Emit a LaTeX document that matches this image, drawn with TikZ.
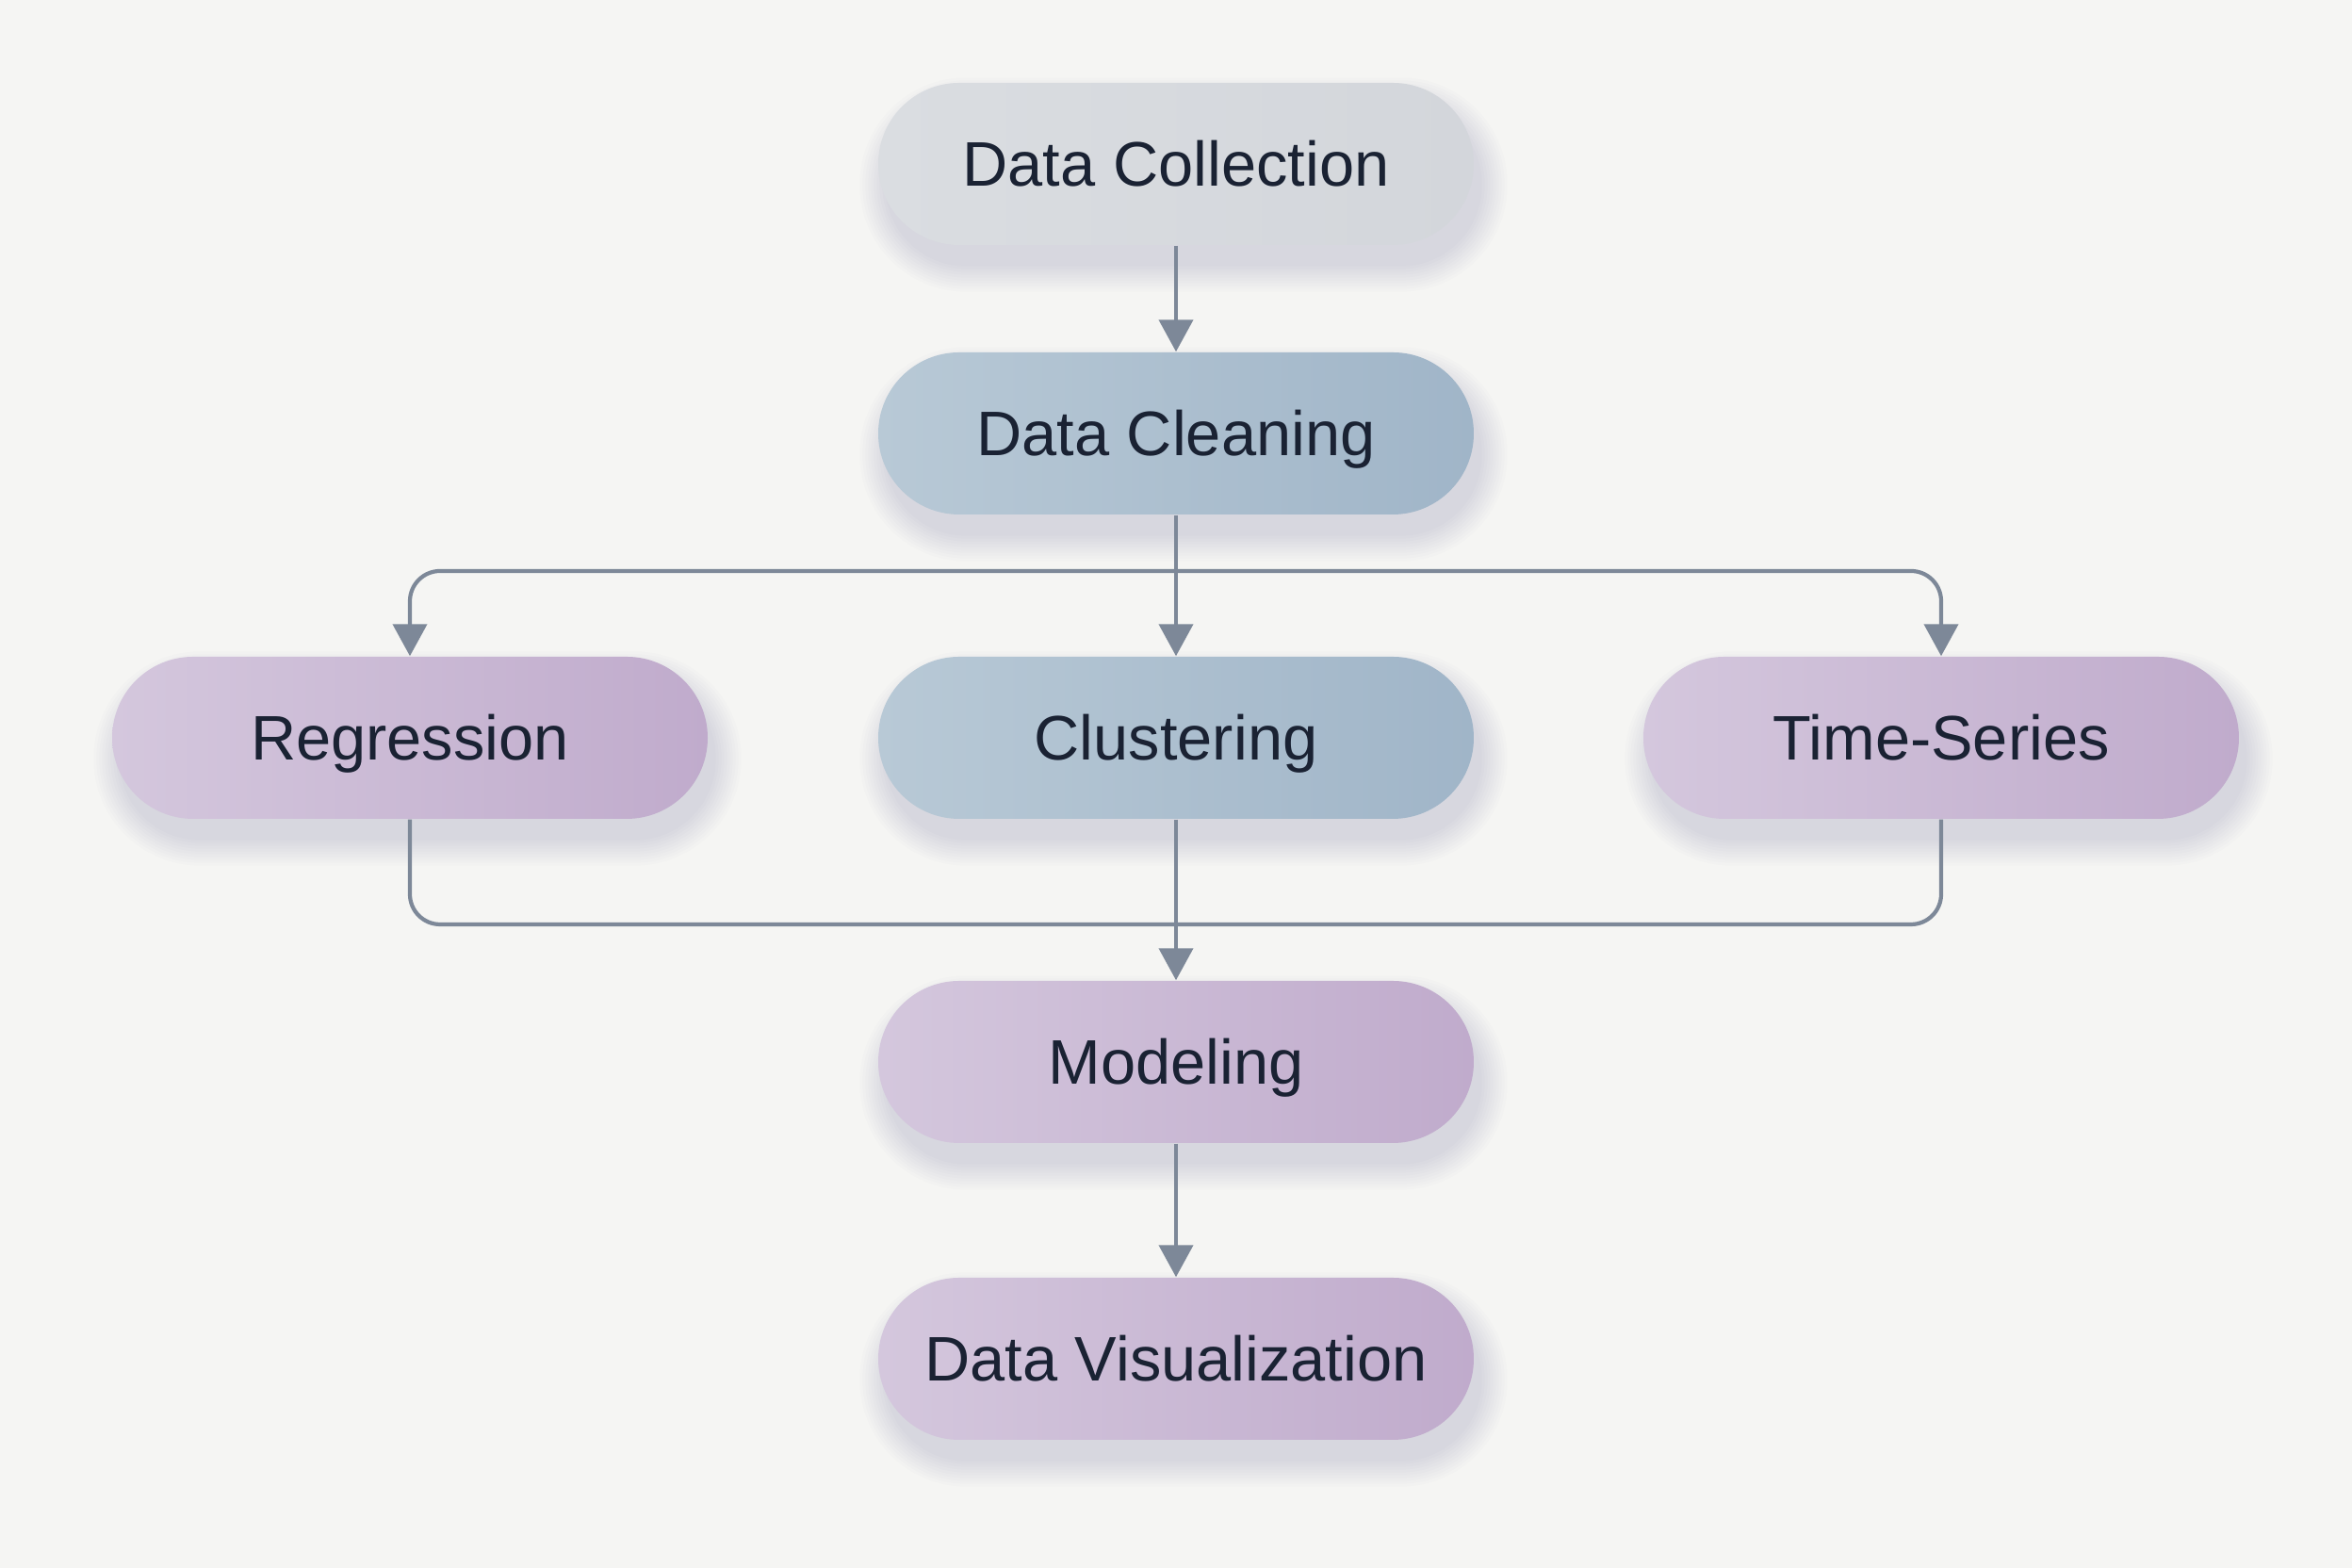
\documentclass[tikz,border=0pt]{standalone}
\usepackage{fontspec}
\setmainfont{Liberation Sans}
\usetikzlibrary{arrows.meta,calc,backgrounds}
\definecolor{bg}{HTML}{F5F5F3}
\definecolor{txt}{HTML}{1A2233}
\definecolor{ln}{HTML}{7D8898}
\definecolor{grayL}{HTML}{DADDE1}
\definecolor{grayR}{HTML}{D3D6DB}
\definecolor{blueL}{HTML}{B8C9D6}
\definecolor{blueR}{HTML}{A0B5C8}
\definecolor{purpL}{HTML}{D4C7DD}
\definecolor{purpR}{HTML}{C0ABCC}
\tikzset{
  pill/.style={rectangle, rounded corners=0.86cm, minimum width=6.32cm, minimum height=1.72cm,
    inner sep=0pt, text=txt, font=\fontsize{19}{22}\selectfont, text height=13.6pt, text depth=0pt},
  graypill/.style={pill, left color=grayL, right color=grayR},
  bluepill/.style={pill, left color=blueL, right color=blueR},
  purppill/.style={pill, left color=purpL, right color=purpR},
  conn/.style={draw=ln, line width=1.2pt, rounded corners=0.32cm},
  arr/.style={conn, -{Triangle[length=0.34cm,width=0.36cm]}}
}
\newcommand{\pillshadow}[1]{%
  \foreach \e in {0,0.03,...,0.27}{%
    \pgfmathsetmacro{\rr}{0.86+\e}%
    \fill[black!70!blue, opacity=0.011, rounded corners=\rr cm]
      ($(#1.south west)+(0.08-\e,-0.22-\e)$) rectangle ($(#1.north east)+(0.08+\e,-0.22+\e)$);
  }%
}
\begin{document}
\begin{tikzpicture}
\useasboundingbox (0,0) rectangle (24.96,16.64);
\node[graypill] (dc) at (12.48,14.90) {Data Collection};
\node[bluepill] (dcl) at (12.48,12.04) {Data Cleaning};
\node[purppill] (reg) at (4.35,8.81) {Regression};
\node[bluepill] (clu) at (12.48,8.81) {Clustering};
\node[purppill] (ts) at (20.60,8.81) {Time-Series};
\node[purppill] (mod) at (12.48,5.37) {Modeling};
\node[purppill] (vis) at (12.48,2.22) {Data Visualization};
\begin{pgfonlayer}{background}
\fill[bg] (0,0) rectangle (24.96,16.64);
\pillshadow{dc}
\pillshadow{dcl}
\pillshadow{reg}
\pillshadow{clu}
\pillshadow{ts}
\pillshadow{mod}
\pillshadow{vis}
\end{pgfonlayer}
\coordinate (split) at (12.48,10.58);
\coordinate (merge) at (12.48,6.83);
\draw[arr] (dc.south) -- (dcl.north);
\draw[arr] (dcl.south) -- (clu.north);
\draw[arr] (split) -| (reg.north);
\draw[arr] (split) -| (ts.north);
\draw[conn] (reg.south) |- (merge);
\draw[conn] (ts.south) |- (merge);
\draw[arr] (clu.south) -- (mod.north);
\draw[arr] (mod.south) -- (vis.north);
\end{tikzpicture}
\end{document}
